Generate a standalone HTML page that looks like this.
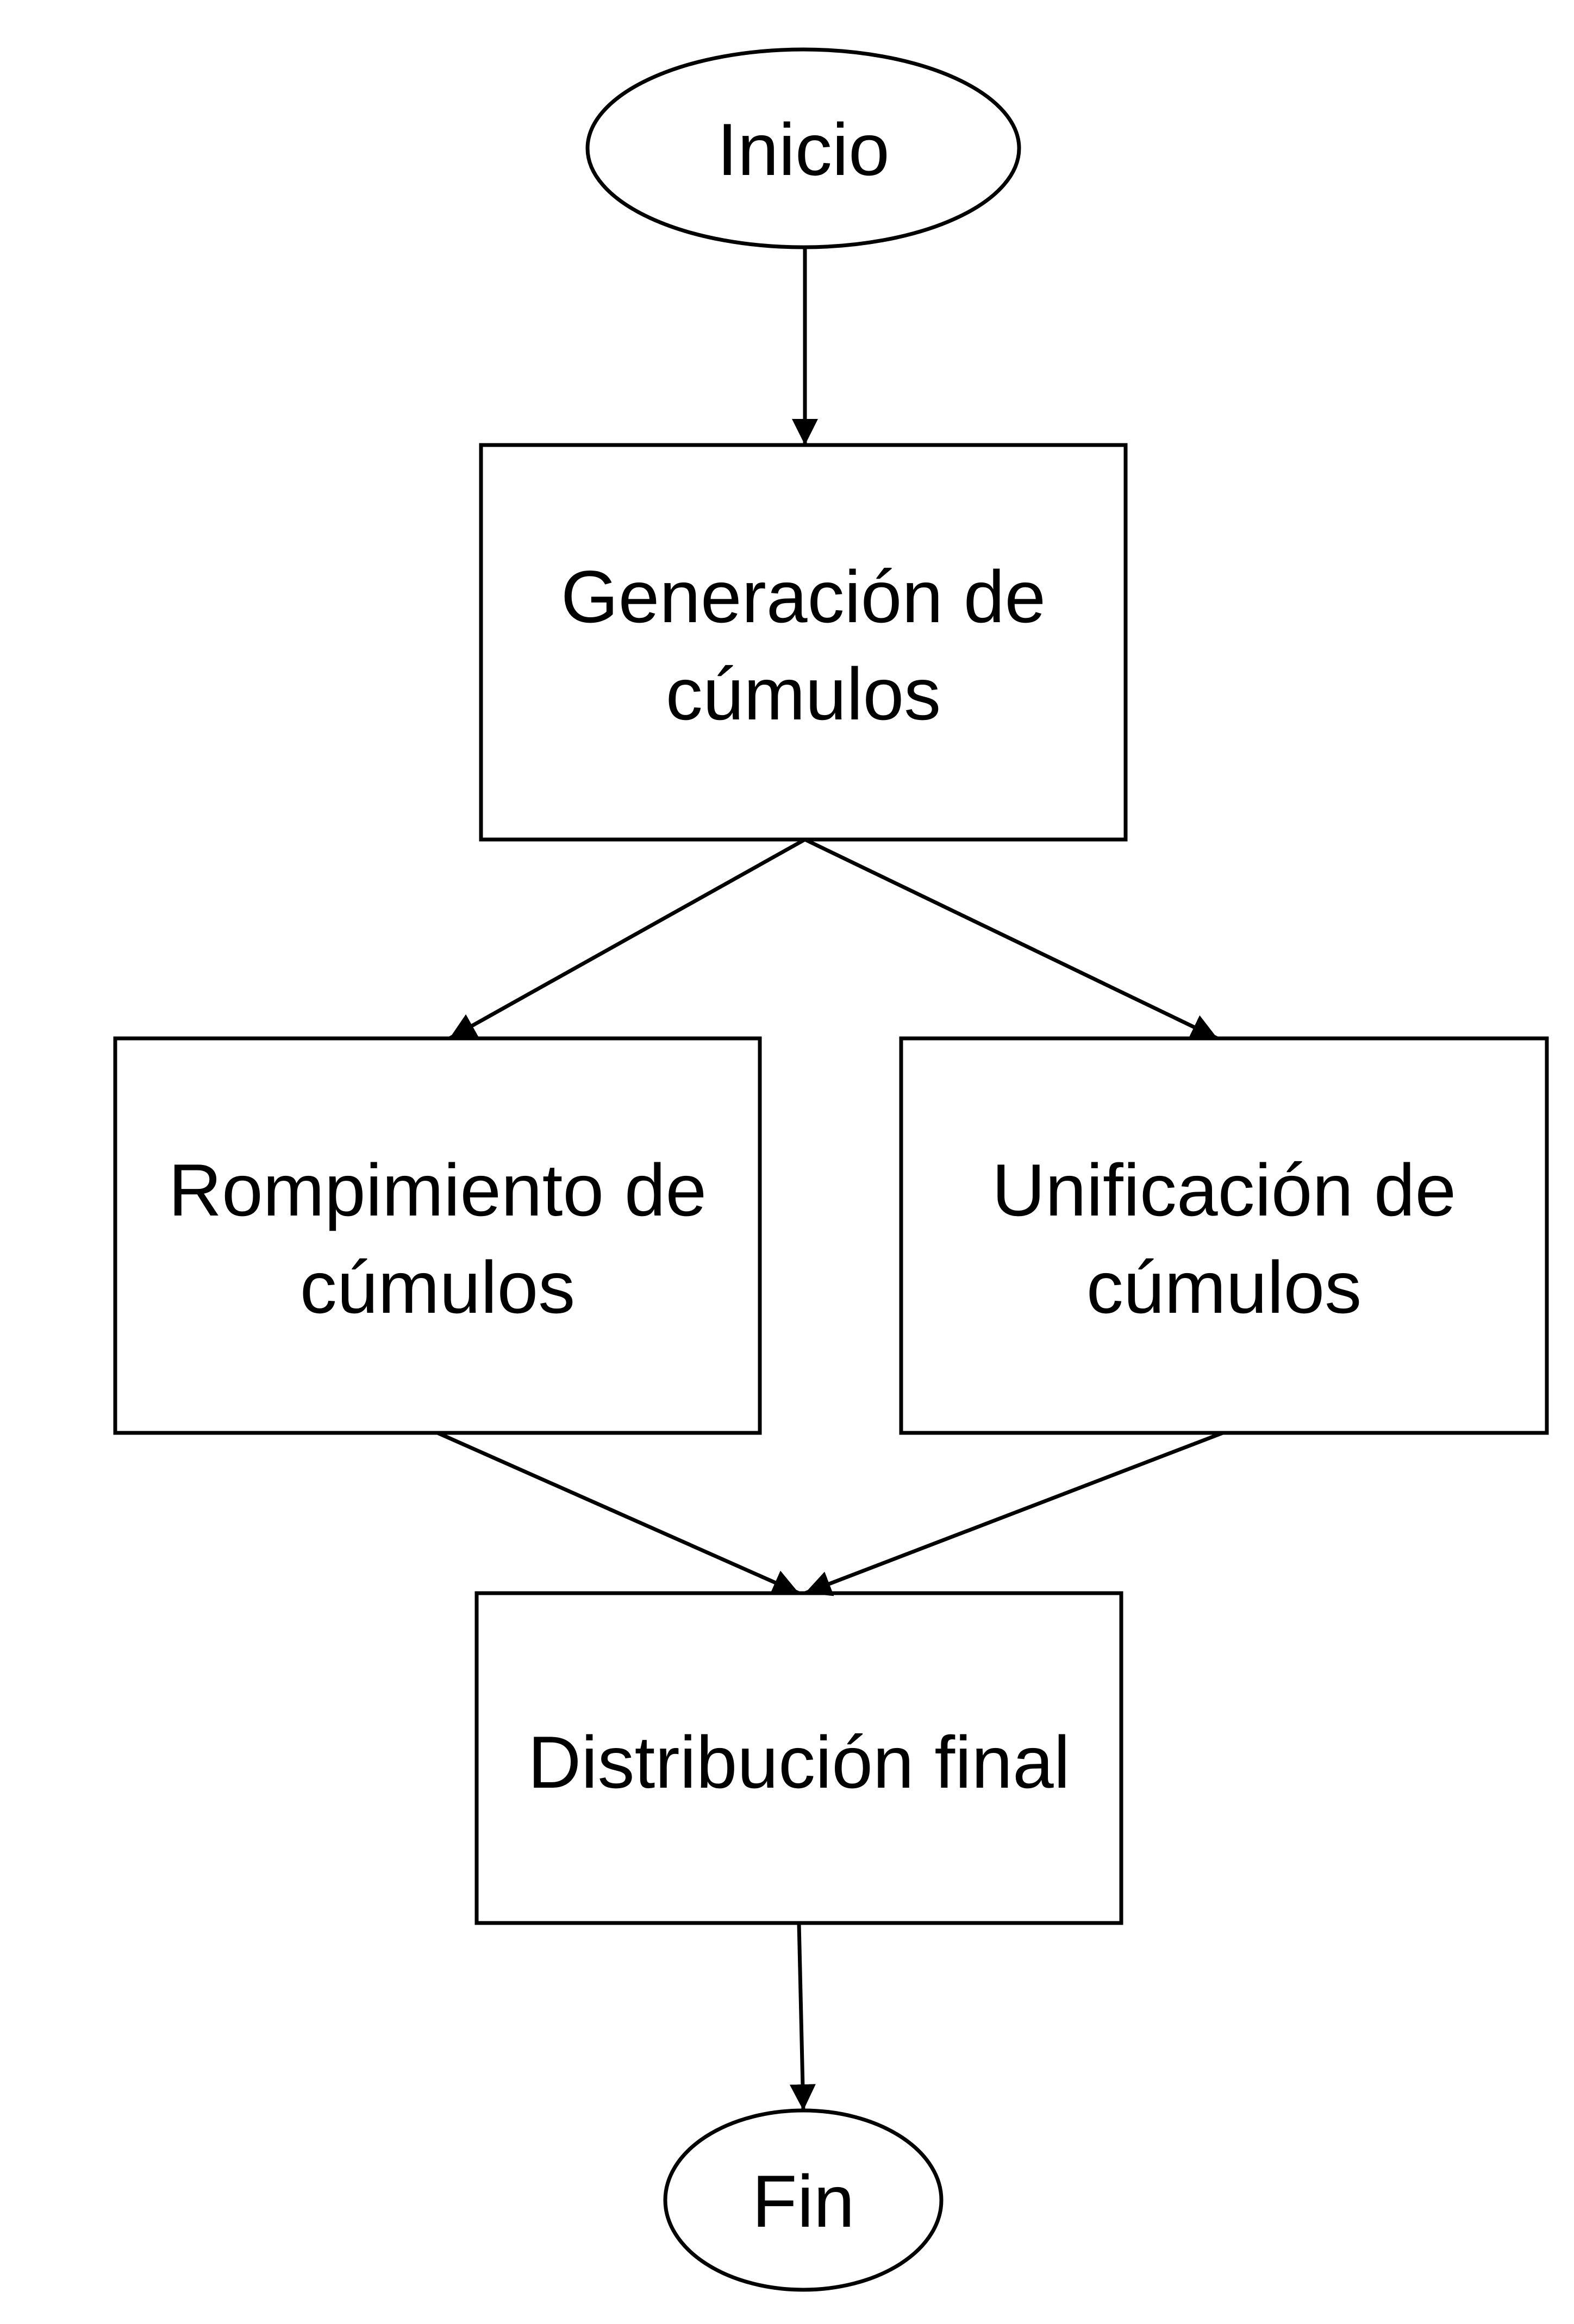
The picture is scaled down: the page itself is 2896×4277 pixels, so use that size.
<!DOCTYPE html>
<html><head><meta charset="utf-8"><style>html,body{margin:0;padding:0;background:#fff}</style></head>
<body>
<svg width="2896" height="4272" viewBox="0 0 2896 4272" xmlns="http://www.w3.org/2000/svg">
<defs>
<marker id="b" viewBox="0 0 10 10" refX="10" refY="5" markerWidth="48" markerHeight="48" markerUnits="userSpaceOnUse" orient="auto"><path d="M0,0 L10,5 L0,10 z" fill="#000"/></marker>
</defs>
<g fill="#fff" stroke="#000" stroke-width="7">
<ellipse cx="1478" cy="273" rx="397" ry="182"/>
<rect x="885" y="819" width="1186" height="726"/>
<rect x="212" y="1911" width="1186" height="726"/>
<rect x="1658" y="1911" width="1188" height="726"/>
<rect x="877" y="2932" width="1186" height="607"/>
<ellipse cx="1478" cy="4049" rx="254" ry="165"/>
</g>
<g stroke="#000" stroke-width="7" fill="none" marker-end="url(#b)">
<line x1="1481" y1="455" x2="1481" y2="819"/>
<line x1="1481" y1="1545" x2="827" y2="1911"/>
<line x1="1481" y1="1545" x2="2240" y2="1911"/>
<line x1="805" y1="2637" x2="1470" y2="2932"/>
<line x1="2250" y1="2637" x2="1481" y2="2932"/>
<line x1="1470" y1="3539" x2="1478" y2="3884"/>
</g>
<g font-family="Liberation Sans, sans-serif" font-size="136" text-anchor="middle" fill="#000">
<text x="1478" y="322">Inicio</text>
<text x="1478" y="1145">Generación de</text>
<text x="1478" y="1324">cúmulos</text>
<text x="805" y="2237">Rompimiento de</text>
<text x="805" y="2416">cúmulos</text>
<text x="2252" y="2237">Unificación de</text>
<text x="2252" y="2416">cúmulos</text>
<text x="1470" y="3290">Distribución final</text>
<text x="1478" y="4098">Fin</text>
</g>
</svg>
</body></html>
